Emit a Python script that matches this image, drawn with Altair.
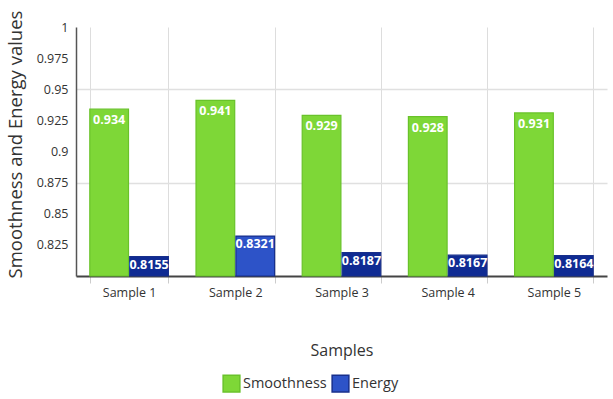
import altair as alt
import pandas as pd

samples = ["Sample 1", "Sample 2", "Sample 3", "Sample 4", "Sample 5"]
smoothness = [0.934, 0.941, 0.929, 0.928, 0.931]
energy = [0.8155, 0.8321, 0.8187, 0.8167, 0.8164]
series_names = ["Smoothness", "Energy"]
y_ticks = [0.8, 0.825, 0.85, 0.875, 0.9, 0.925, 0.95, 0.975, 1.0]

rows = []
for s, sm, en in zip(samples, smoothness, energy):
    rows.append({"sample": s, "series": "Smoothness", "value": sm})
    rows.append({"sample": s, "series": "Energy", "value": en})
df = pd.DataFrame(rows)

FONT = "Open Sans"
GREEN = "#7ed737"
BLUE = "#2d53c8"
DARK_BLUE = "#0f2b93"

x_axis = alt.Axis(
    title="Samples",
    labelAngle=0,
    labelFont=FONT,
    labelFontSize=12.5,
    labelColor="#333333",
    labelPadding=3,
    tickBand="extent",
    tickSize=7,
    tickColor="#cccccc",
    grid=True,
    gridColor="#dddddd",
    domainColor="#444444",
    domainWidth=2,
    titleFont=FONT,
    titleFontSize=16,
    titleFontWeight="normal",
    titleColor="#333333",
    titleBaseline="middle",
    titleY=74,
)

y_axis = alt.Axis(
    title="Smoothness and Energy values",
    values=y_ticks,
    labelExpr="datum.value < 0.81 ? '' : format(datum.value, '')",
    labelOverlap=False,
    labelFont=FONT,
    labelFontSize=12.5,
    labelColor="#333333",
    labelPadding=8,
    ticks=False,
    grid=True,
    gridColor={"condition": {"test": "abs(datum.value - 0.875) < 1e-6 || abs(datum.value - 0.95) < 1e-6",
                             "value": "#e0e0e0"}, "value": "transparent"},
    gridWidth=1.5,
    domainColor="#555555",
    domainWidth=1.5,
    titleFont=FONT,
    titleFontSize=18.5,
    titleFontWeight="normal",
    titleColor="#333333",
    titleAngle=-90,
    titleAlign="center",
    titleBaseline="middle",
    titleX=-61,
    titleY=117,
)

x_scale = alt.Scale(paddingInner=0.26, paddingOuter=0.13)
y_scale = alt.Scale(domain=[0.8, 1.0], zero=False, nice=False)
xoff = alt.XOffset("series:N", sort=series_names,
                   scale=alt.Scale(paddingInner=0.03))

bars = alt.Chart(df).mark_bar(strokeWidth=1.2).encode(
    x=alt.X("sample:N", sort=samples, scale=x_scale, axis=x_axis),
    xOffset=xoff,
    y=alt.Y("value:Q", scale=y_scale, axis=y_axis),
    y2=alt.datum(0.8),
    color=alt.condition(
        "datum.series == 'Energy' && datum.sample != 'Sample 2'",
        alt.value(DARK_BLUE),
        alt.Color(
            "series:N",
            sort=series_names,
            scale=alt.Scale(domain=series_names, range=[GREEN, BLUE]),
            legend=alt.Legend(
                title=None,
                orient="none",
                direction="horizontal",
                legendX=146,
                legendY=347,
                symbolType="square",
                symbolSize=280,
                symbolStrokeColor="#6f9fd6",
                symbolStrokeWidth=1.5,
                symbolOpacity=1,
                labelFont=FONT,
                labelFontSize=14.5,
                labelColor="#333333",
                labelOffset=2,
                columnPadding=2,
            ),
        ),
    ),
    stroke=alt.Stroke(
        "series:N",
        scale=alt.Scale(domain=series_names, range=["#69c22a", "#172f8c"]),
        legend=None,
    ),
)

label_common = dict(color="white", font=FONT, fontSize=12.5, fontWeight="bold",
                    baseline="top", align="center")


def value_labels(series, dy):
    return alt.Chart(df).transform_filter(
        alt.datum.series == series
    ).mark_text(dy=dy, **label_common).encode(
        x=alt.X("sample:N", sort=samples, scale=x_scale, axis=x_axis),
        xOffset=xoff,
        y=alt.Y("value:Q", scale=y_scale, axis=y_axis),
        text=alt.Text("value:Q", format=""),
    )


chart = alt.layer(
    bars, value_labels("Smoothness", 5), value_labels("Energy", 2)
).properties(
    width=531,
    height=249,
    autosize=alt.AutoSizeParams(type="none"),
    padding={"left": 76, "top": 27, "right": 6, "bottom": 123},
    background="white",
).configure_view(stroke=None)

chart.save("out.html", embed_options={"renderer": "svg", "actions": False})
